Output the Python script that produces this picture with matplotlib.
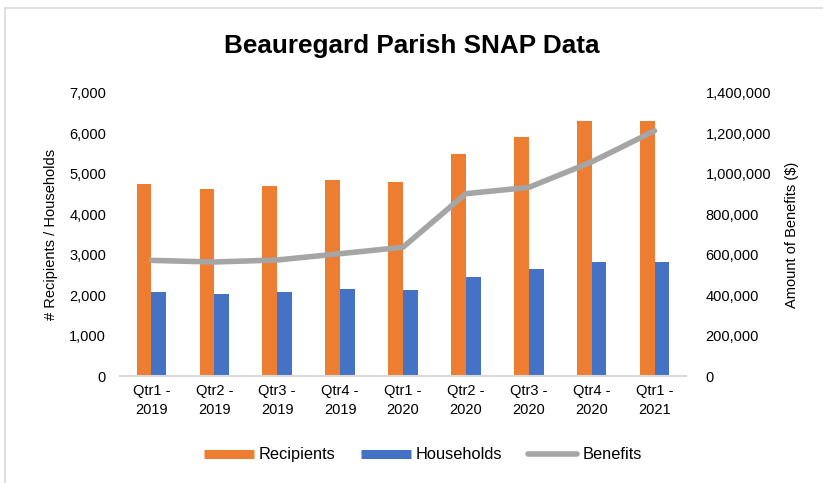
import matplotlib
matplotlib.use("Agg")
import matplotlib.pyplot as plt
from matplotlib.lines import Line2D
from matplotlib.ticker import FuncFormatter
import numpy as np

plt.rcParams['font.family'] = ['Liberation Sans', 'DejaVu Sans']

quarters = ["Qtr1 -\n2019", "Qtr2 -\n2019", "Qtr3 -\n2019", "Qtr4 -\n2019",
            "Qtr1 -\n2020", "Qtr2 -\n2020", "Qtr3 -\n2020", "Qtr4 -\n2020",
            "Qtr1 -\n2021"]
recipients = [4740, 4630, 4700, 4860, 4790, 5480, 5900, 6310, 6300]
households = [2090, 2030, 2080, 2140, 2130, 2460, 2640, 2810, 2810]
benefits = [572000, 564000, 574000, 605000, 637000, 902000, 933000, 1059000, 1213000]

orange = "#ED7D31"
blue = "#4472C4"
gray = "#A5A5A5"

fig = plt.figure(figsize=(8.23, 4.83), dpi=100)
ax = fig.add_axes([0.1458, 0.2215, 0.6877, 0.586])
ax2 = ax.twinx()

x = np.arange(len(quarters))
w = 0.235
ax.bar(x - w / 2, recipients, w, color=orange, zorder=2)
ax.bar(x + w / 2, households, w, color=blue, zorder=2)
ax2.plot(x, benefits, color=gray, lw=4.0, solid_capstyle="round", zorder=3)

ax.set_xlim(-0.5, len(quarters) - 0.5)
ax.set_ylim(0, 7000)
ax.set_yticks(range(0, 7001, 1000))
ax2.set_ylim(0, 1400000)
ax2.set_yticks(range(0, 1400001, 200000))

fmt = FuncFormatter(lambda v, p: f"{int(v):,}")
ax.yaxis.set_major_formatter(fmt)
ax2.yaxis.set_major_formatter(fmt)

ax.set_xticks(x)
ax.set_xticklabels(quarters, linespacing=1.45)
ax.tick_params(axis="x", length=0, pad=6, labelsize=10.5)
ax.tick_params(axis="y", length=0, pad=10, labelsize=10.5)
ax2.tick_params(axis="y", length=0, pad=14, labelsize=10.5)

for a in (ax, ax2):
    for s in ("top", "left", "right"):
        a.spines[s].set_visible(False)
    a.spines["bottom"].set_color("#D9D9D9")
    a.spines["bottom"].set_linewidth(1.5)
ax2.spines["bottom"].set_visible(False)

ax.set_ylabel("# Recipients / Households", fontsize=10.5, labelpad=8)
ax2.set_ylabel("Amount of Benefits ($)", fontsize=10.5, labelpad=10)

fig.text(0.5, 0.905, "Beauregard Parish SNAP Data", ha="center", va="center",
         fontsize=18.8, fontweight="bold")

handles = [Line2D([], [], color=orange, lw=6.5, solid_capstyle="butt"),
           Line2D([], [], color=blue, lw=6.5, solid_capstyle="butt"),
           Line2D([], [], color=gray, lw=4.0, solid_capstyle="round")]
fig.legend(handles, ["Recipients", "Households", "Benefits"], loc="center",
           bbox_to_anchor=(0.514, 0.058), ncol=3, frameon=False, fontsize=11.8,
           handlelength=3.0, columnspacing=1.6, handletextpad=0.3)

# chart border (top and left edges visible in the crop)
fig.add_artist(Line2D([5 / 823, 5 / 823], [0, 1 - 8 / 483], transform=fig.transFigure,
                      color="#D9D9D9", lw=1.2))
fig.add_artist(Line2D([5 / 823, 1], [1 - 8 / 483, 1 - 8 / 483], transform=fig.transFigure,
                      color="#D9D9D9", lw=1.2))

fig.savefig("out.png", dpi=100)
